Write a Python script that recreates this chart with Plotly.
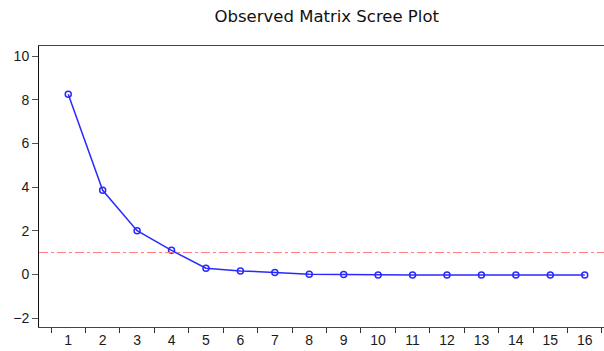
import plotly.graph_objects as go

components = [str(i) for i in range(1, 17)]
eigenvalues = [8.25, 3.85, 2.0, 1.1, 0.28, 0.16, 0.09, 0.01, 0.0, -0.03, -0.03, -0.03, -0.03, -0.03, -0.03, -0.03]
threshold = 1.0
y_ticks = [-2, 0, 2, 4, 6, 8, 10]

fig = go.Figure()
fig.add_trace(go.Scatter(
    x=components, y=eigenvalues, mode="lines+markers",
    line=dict(color="#2a2aff", width=1.5),
    marker=dict(symbol="circle-open", size=6, color="#2a2aff", line=dict(width=1.5)),
    showlegend=False,
))
fig.add_shape(type="line", xref="paper", x0=0, x1=1, yref="y", y0=threshold, y1=threshold,
              line=dict(color="#ff7a7a", width=1, dash="dashdot"))

fig.update_layout(
    width=604, height=351,
    margin=dict(l=39, r=0, t=46, b=24, autoexpand=False),
    paper_bgcolor="white", plot_bgcolor="white",
    font=dict(family="Liberation Sans, Arial, sans-serif", size=14, color="#1a1a1a"),
    title=dict(text="Observed Matrix Scree Plot", x=0.541, xanchor="center", y=0.955, yanchor="middle",
               font=dict(family="DejaVu Sans, sans-serif", size=16.5, color="#111")),
)
fig.update_xaxes(
    type="category", range=[-0.849, 15.56], tickson="boundaries",
    ticks="outside", ticklen=5, tickcolor="#333", tickwidth=1,
    showline=True, linecolor="#444", linewidth=1, mirror=True,
    showgrid=False, zeroline=False, automargin=False,
)
fig.update_yaxes(
    range=[-2.41, 10.46], tickvals=y_ticks,
    ticks="outside", ticklen=6, tickcolor="#555", tickwidth=1,
    showline=True, linecolor="#111", linewidth=1,
    showgrid=False, zeroline=False, automargin=False,
)
fig.write_html("out.html", config={"displayModeBar": False},
               post_script="document.body.style.margin='0';document.body.style.overflow='hidden';")
